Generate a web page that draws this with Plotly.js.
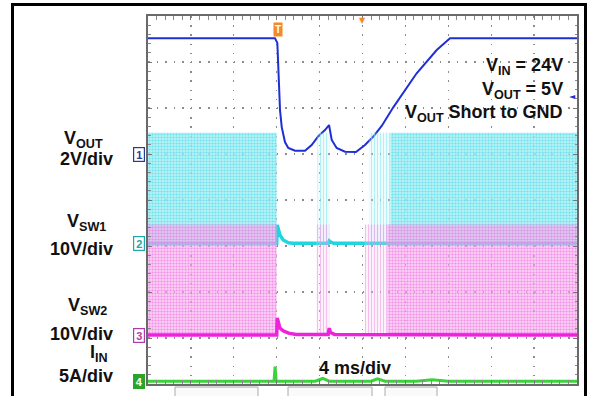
<!DOCTYPE html>
<html>
<head>
<meta charset="utf-8">
<script src="https://cdn.plot.ly/plotly-3.0.1.min.js"></script>
<style>html,body{margin:0;padding:0;background:#fff;}</style>
</head>
<body>
<div id="chart" style="width:589px;height:396px;"></div>
<script>
// ---------- DATA (time in ms, values in V / A) ----------
const voutTime = [0, 11.84, 12.06, 12.31, 12.47, 12.77, 13.08, 13.71, 14.64, 15.26, 15.88, 16.50, 16.88, 17.13, 17.59, 18.37, 19.39, 20.23, 21.01, 21.79, 22.87, 25.05, 26.92, 28.16, 40];
const voutV    = [5.03, 5.03, 4.83, 1.91, 1.17, 0.52, 0.26, 0.14, 0.14, 0.39, 0.78, 1.04, 1.26, 0.61, 0.26, 0.10, 0.09, 0.39, 0.76, 1.22, 2.03, 3.51, 4.52, 5.03, 5.03];

const vsw1Time = [0, 12.0, 12.05, 12.3, 12.6, 13.1, 13.5, 16.8, 16.9, 17.0, 17.3, 40];
const vsw1V    = [0, 0, 4.0, 1.8, 0.7, 0.1, 0, 0, 0.5, 0.3, 0, 0];

const vsw2Time = [0, 12.0, 12.05, 12.3, 12.6, 13.1, 13.8, 16.8, 16.9, 17.0, 17.4, 40];
const vsw2V    = [0, 0, 3.7, 1.5, 0.9, 0.4, 0.1, 0.1, 1.5, 0.6, 0.1, 0];

const iinTime = [0, 11.75, 11.85, 11.95, 12.1, 15.6, 16.3, 16.9, 20.8, 21.4, 22.1, 25.0, 26.5, 28.0, 40];
const iinA    = [0.05, 0.05, 1.65, 0.05, 0.05, 0.05, 0.35, 0.05, 0.05, 0.3, 0.05, 0.05, 0.2, 0.05, 0.05];

const swHighV = 24;                         // switch-node high level (V)
const sw1Dense  = [[0, 12.0], [22.6, 40]];  // intervals with continuous switching (ms)
const sw1Sparse = [[15.8, 16.9], [20.6, 22.6]];
const sw2Dense  = [[0, 12.0], [22.3, 40]];
const sw2Sparse = [[15.7, 16.9], [20.2, 22.3]];

const msPerDiv = 4, voutVPerDiv = 2;
// ---------- helpers ----------
function bands(intervals, high) {
  const x = [], y = [];
  intervals.forEach(([a, b]) => { x.push(a, a, b, b, a, null); y.push(0, high, high, 0, 0, null); });
  return {x, y};
}
const L = 148, T = 16, W = 429, H = 368;
const px = v => (v - L) / W;
const py = v => (H + T - v) / H;

const b1d = bands(sw1Dense, swHighV), b1s = bands(sw1Sparse, swHighV);
const b2d = bands(sw2Dense, swHighV), b2s = bands(sw2Sparse, swHighV);

const traces = [
  {x: b1d.x, y: b1d.y, yaxis: 'y2', mode: 'lines', line: {width: 0}, fill: 'toself', fillcolor: '#b0f0f4',
   fillpattern: {shape: '.', bgcolor: 'rgba(168,238,244,0.8)', fgcolor: 'rgba(95,226,236,0.9)', size: 3, solidity: 0.4}, hoverinfo: 'skip'},
  {x: b1s.x, y: b1s.y, yaxis: 'y2', mode: 'lines', line: {width: 0}, fill: 'toself', fillcolor: 'rgba(150,235,240,0.3)',
   fillpattern: {shape: '|', bgcolor: 'rgba(190,242,246,0.25)', fgcolor: 'rgba(120,230,238,0.5)', size: 3, solidity: 0.35}, hoverinfo: 'skip'},
  {x: b2d.x, y: b2d.y, yaxis: 'y3', mode: 'lines', line: {width: 0}, fill: 'toself', fillcolor: 'rgba(246,170,236,0.7)',
   fillpattern: {shape: '.', bgcolor: 'rgba(246,175,238,0.6)', fgcolor: 'rgba(238,125,226,0.8)', size: 3, solidity: 0.4}, hoverinfo: 'skip'},
  {x: b2s.x, y: b2s.y, yaxis: 'y3', mode: 'lines', line: {width: 0}, fill: 'toself', fillcolor: 'rgba(240,150,230,0.3)',
   fillpattern: {shape: '|', bgcolor: 'rgba(248,200,242,0.25)', fgcolor: 'rgba(238,140,228,0.5)', size: 3, solidity: 0.35}, hoverinfo: 'skip'},
  {x: vsw1Time, y: vsw1V, yaxis: 'y2', mode: 'lines', line: {color: '#1fd6e0', width: 3.5}},
  {x: vsw2Time, y: vsw2V, yaxis: 'y3', mode: 'lines', line: {color: '#ee22dd', width: 3.5}},
  {x: iinTime, y: iinA, yaxis: 'y4', mode: 'lines', line: {color: '#3ad43a', width: 3}},
  {x: voutTime, y: voutV, yaxis: 'y', mode: 'lines', line: {color: '#1f2fd6', width: 2}}
];

const axisCommon = {showticklabels: false, zeroline: false, showline: true, linecolor: '#6a6a6a', linewidth: 2,
  mirror: 'allticks', ticks: 'inside', ticklen: 4, tickcolor: '#777', showgrid: true, gridcolor: '#8c8c8c', gridwidth: 1.2,
  layer: 'above traces'};

const fontB = (s, c) => ({family: 'Liberation Sans, Arial, sans-serif', size: s, color: c || '#111', weight: 'bold'});
const ann = [];
function label(text, xr, yc, size) {
  ann.push({text, xref: 'paper', yref: 'paper', x: px(xr), y: py(yc), xanchor: 'right', yanchor: 'middle',
    showarrow: false, font: fontB(size), borderpad: 0});
}
label('V<sub>OUT</sub>', 104, 139.5, 18);
label('2V/div', 114, 159, 18);
label('V<sub>SW1</sub>', 107, 222.5, 18);
label('10V/div', 114, 249, 18);
label('V<sub>SW2</sub>', 108, 306, 18);
label('10V/div', 114, 334, 18);
label('I<sub>IN</sub>', 109, 353.4, 18);
label('5A/div', 114, 376, 18);
label('V<sub>IN</sub> = 24V', 564, 66.7, 18);
label('V<sub>OUT</sub> = 5V', 564, 90.8, 18);
label('V<sub>OUT</sub> Short to GND', 564, 114, 18);
ann.push({text: '4 ms/div', xref: 'paper', yref: 'paper', x: px(355), y: py(367.5), xanchor: 'center', yanchor: 'middle', showarrow: false, font: fontB(18)});

// channel markers
function marker(txt, axis, col, filled) {
  ann.push({text: '<b>' + txt + '</b>', xref: 'paper', yref: axis, x: px(145), y: 0, xanchor: 'right', yanchor: 'middle',
    showarrow: false, width: 10, height: 13, borderpad: 0, borderwidth: 1.2, bordercolor: col,
    bgcolor: filled ? col : '#ffffff', font: {family: 'Liberation Sans, Arial', size: 11, color: filled ? '#fff' : col}});
}
marker('1', 'y', '#2a3a9a', false);
marker('2', 'y2', '#20a8a8', false);
marker('3', 'y3', '#b03aa8', false);
marker('4', 'y4', '#2aa52a', true);

// trigger marks
ann.push({text: '<b>T</b>', xref: 'x', yref: 'paper', x: 12.1, y: py(29.5), xanchor: 'center', yanchor: 'middle', showarrow: false,
  bgcolor: '#f28a2a', borderpad: 1, font: {family: 'Liberation Sans, Arial', size: 10, color: '#fff'}});
ann.push({text: '▼', xref: 'x', yref: 'paper', x: 20, y: py(14), xanchor: 'center', yanchor: 'top', showarrow: false,
  font: {family: 'DejaVu Sans', size: 8, color: '#f28a2a'}});
ann.push({text: '◄', xref: 'paper', yref: 'y', x: px(572), y: 2.5, xanchor: 'center', yanchor: 'middle', showarrow: false,
  font: {family: 'DejaVu Sans', size: 8, color: '#1f2fd6'}});

const shapes = [
  {type: 'rect', xref: 'paper', yref: 'paper', x0: px(12.5), x1: px(585.5), y0: py(430), y1: py(4.5), line: {color: '#000', width: 3}},
];
[[175, 258], [288, 372], [385, 437]].forEach(([a, b]) => shapes.push({type: 'rect', xref: 'paper', yref: 'paper',
  x0: px(a), x1: px(b), y0: py(400), y1: py(387), line: {color: '#aaaaaa', width: 1}, fillcolor: '#fafafa'}));

const layout = {
  width: 589, height: 396, margin: {l: L, r: 589 - L - W, t: T, b: 396 - T - H, pad: 0},
  paper_bgcolor: '#fff', plot_bgcolor: '#fff', showlegend: false,
  xaxis: Object.assign({}, axisCommon, {range: [0, 40], dtick: msPerDiv, tick0: 0, griddash: '1.5px,7.7px',
    minor: {dtick: msPerDiv / 5, ticks: 'inside', ticklen: 2.5, tickcolor: '#888', showgrid: false}}),
  yaxis: Object.assign({}, axisCommon, {range: [-10, 6], dtick: voutVPerDiv, tick0: -10, griddash: '1.5px,7.08px',
    minor: {dtick: voutVPerDiv / 5, ticks: 'inside', ticklen: 2.5, tickcolor: '#888', showgrid: false}}),
  yaxis2: {overlaying: 'y', anchor: 'x', range: [-30.6, 49.4], visible: false},
  yaxis3: {overlaying: 'y', anchor: 'x', range: [-10.65, 69.35], visible: false},
  yaxis4: {overlaying: 'y', anchor: 'x', range: [-0.25, 39.75], visible: false},
  annotations: ann, shapes: shapes
};
Plotly.newPlot('chart', traces, layout, {staticPlot: true, displayModeBar: false});
</script>
</body>
</html>
